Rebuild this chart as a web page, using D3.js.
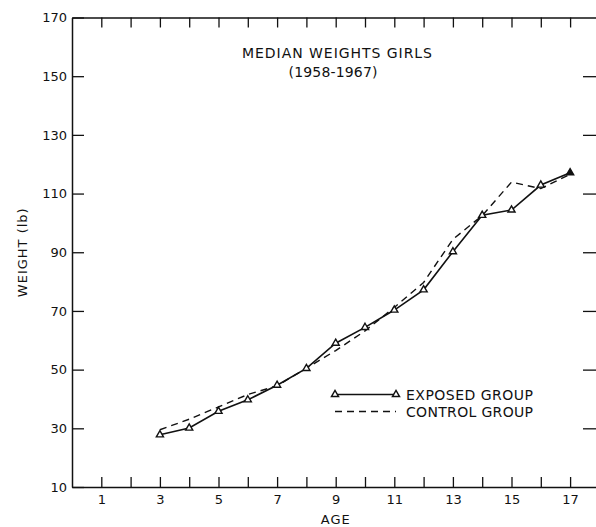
<!DOCTYPE html>
<html>
<head>
<meta charset="utf-8">
<script src="https://cdn.jsdelivr.net/npm/d3@7"></script>
<style>
  html, body { margin: 0; padding: 0; background: #fff; }
  svg { display: block; }
  text { font-family: "DejaVu Sans", sans-serif; fill: #111; }
</style>
</head>
<body>
<svg id="chart" width="596" height="527"></svg>
<script>
const ages = [3, 4, 5, 6, 7, 8, 9, 10, 11, 12, 13, 14, 15, 16, 17];
const exposedGroup = [27.8, 30.1, 35.8, 39.7, 44.7, 50.4, 59.0, 64.4, 70.3, 77.2, 90.2, 102.6, 104.4, 112.9, 117.1];
const controlGroup = [29.5, 33.1, 37.3, 41.5, 44.5, 50.5, 56.5, 63.2, 71.2, 79.7, 94.4, 102.5, 113.9, 111.7, 116.6];
const xTickValues = [1, 2, 3, 4, 5, 6, 7, 8, 9, 10, 11, 12, 13, 14, 15, 16, 17];
const xTickLabels = ["1", "3", "5", "7", "9", "11", "13", "15", "17"];
const yTickValues = [10, 30, 50, 70, 90, 110, 130, 150, 170];
const titleLines = ["MEDIAN WEIGHTS GIRLS", "(1958-1967)"];
const legendLabels = ["EXPOSED GROUP", "CONTROL GROUP"];
const xTitle = "AGE";
const yTitle = "WEIGHT (lb)";

const svg = d3.select("#chart");
const x = d3.scaleLinear().domain([0, 18]).range([72, 599.4]);
const y = d3.scaleLinear().domain([10, 170]).range([487, 17.5]);
const ink = "#111";

function styleAxis(g) {
  g.selectAll("path.domain").attr("stroke", ink).attr("stroke-width", 1.5);
  g.selectAll(".tick line").attr("stroke", ink).attr("stroke-width", 1.3);
  g.selectAll(".tick text").attr("font-family", "DejaVu Sans, sans-serif").attr("font-size", 13).attr("fill", ink);
}

// bottom axis
const gx = svg.append("g").attr("transform", `translate(0,${y(10)})`)
  .call(d3.axisBottom(x).tickValues(xTickValues).tickSize(-10).tickSizeOuter(0).tickPadding(8)
    .tickFormat(d => xTickLabels.includes(String(d)) ? String(d) : ""));
styleAxis(gx);

// top axis (border with inward ticks)
const gt = svg.append("g").attr("transform", `translate(0,${y(170)})`)
  .call(d3.axisTop(x).tickValues(xTickValues).tickSize(-10).tickSizeOuter(0).tickFormat(""));
styleAxis(gt);

// left axis
const gy = svg.append("g").attr("transform", `translate(${x(0)},0)`)
  .call(d3.axisLeft(y).tickValues(yTickValues).tickSize(-12).tickSizeOuter(0).tickPadding(5));
styleAxis(gy);

// right ticks
const gr = svg.append("g").attr("transform", `translate(596,0)`)
  .call(d3.axisRight(y).tickValues(yTickValues.slice(1, -1)).tickSize(-13).tickSizeOuter(0).tickFormat(""));
styleAxis(gr);
gr.select("path.domain").remove();

// axis titles
svg.append("text").attr("x", x(9)).attr("y", 524).attr("text-anchor", "middle")
  .attr("font-size", 13).attr("letter-spacing", 1).text(xTitle);
svg.append("text").attr("transform", `translate(27,${y(90)}) rotate(-90)`).attr("text-anchor", "middle")
  .attr("font-size", 13).attr("letter-spacing", 1).text(yTitle);

// title
svg.append("text").attr("x", 337).attr("y", 58).attr("text-anchor", "middle")
  .attr("font-size", 14).attr("textLength", 190).attr("lengthAdjust", "spacing").text(titleLines[0]);
svg.append("text").attr("x", 333).attr("y", 77).attr("text-anchor", "middle")
  .attr("font-size", 14).attr("textLength", 89).attr("lengthAdjust", "spacing").text(titleLines[1]);

// lines
const controlData = ages.map((a, i) => [a, controlGroup[i]]);
const exposedData = ages.map((a, i) => [a, exposedGroup[i]]);
const line = d3.line().x(d => x(d[0])).y(d => y(d[1]));

svg.append("path").datum(controlData).attr("d", line).attr("fill", "none")
  .attr("stroke", ink).attr("stroke-width", 1.4).attr("stroke-dasharray", "7,5");
svg.append("path").datum(exposedData).attr("d", line).attr("fill", "none")
  .attr("stroke", ink).attr("stroke-width", 1.6);

const tri = d3.symbol().type(d3.symbolTriangle).size(22);
svg.selectAll("path.pt").data(exposedData).enter().append("path").attr("class", "pt")
  .attr("d", tri).attr("transform", d => `translate(${x(d[0])},${y(d[1])})`)
  .attr("fill", (d, i) => i === exposedData.length - 1 ? ink : "#fff")
  .attr("stroke", ink).attr("stroke-width", 1.4);

// legend
const lx0 = 335, lx1 = 396, ly0 = 394.5, ly1 = 411.5;
svg.append("line").attr("x1", lx0).attr("x2", lx1).attr("y1", ly0).attr("y2", ly0)
  .attr("stroke", ink).attr("stroke-width", 1.6);
[lx0, lx1].forEach(px => {
  svg.append("path").attr("d", tri).attr("transform", `translate(${px},${ly0})`)
    .attr("fill", "#fff").attr("stroke", ink).attr("stroke-width", 1.4);
});
svg.append("line").attr("x1", lx0).attr("x2", lx1).attr("y1", ly1).attr("y2", ly1)
  .attr("stroke", ink).attr("stroke-width", 1.4).attr("stroke-dasharray", "7,5");
svg.append("text").attr("x", 406).attr("y", ly0 + 5.5).attr("font-size", 14)
  .attr("textLength", 127).attr("lengthAdjust", "spacing").text(legendLabels[0]);
svg.append("text").attr("x", 406).attr("y", ly1 + 5.5).attr("font-size", 14)
  .attr("textLength", 127).attr("lengthAdjust", "spacing").text(legendLabels[1]);
</script>
</body>
</html>
